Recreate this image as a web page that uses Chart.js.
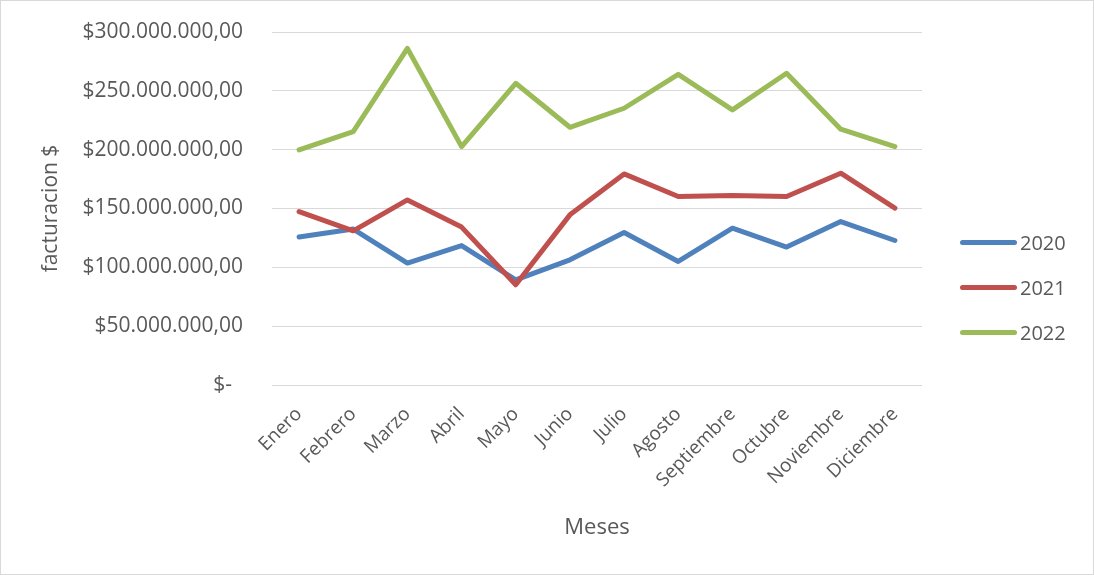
<!DOCTYPE html>
<html>
<head>
<meta charset="utf-8">
<script src="https://cdn.jsdelivr.net/npm/chart.js@4"></script>
<style>
    body { margin: 0; background: #fff; }
    #wrap { position: relative; width: 1094px; height: 575px; }
    #marco { position: absolute; left: 0; top: 0; width: 1092px; height: 573px; border: 1px solid #d9d9d9; pointer-events: none; }
    #leyenda { position: absolute; left: 960px; top: 220px; font-family: "Open Sans", sans-serif; font-size: 20px; color: #595959; }
    .item { height: 45px; display: flex; align-items: center; }
    .item span.linea { display: inline-block; width: 57px; height: 5px; border-radius: 3px; margin-right: 3px; }
</style>
</head>
<body>
<div id="wrap">
    <canvas id="myChart" width="1094" height="575"></canvas>
    <div id="leyenda"></div>
    <div id="marco"></div>
</div>
<script>
const meses = ["Enero", "Febrero", "Marzo", "Abril", "Mayo", "Junio", "Julio", "Agosto", "Septiembre", "Octubre", "Noviembre", "Diciembre"];
const anios = ["2020", "2021", "2022"];
const colores = ["#4f81bd", "#c0504d", "#9bbb59"];

const ventas2020 = [125700000, 132500000, 103600000, 118500000, 89400000, 106400000, 129600000, 105000000, 133300000, 117200000, 138900000, 122800000];
const ventas2021 = [147400000, 131000000, 157300000, 134200000, 85200000, 144600000, 179400000, 160200000, 161000000, 160200000, 180000000, 150300000];
const ventas2022 = [199800000, 215300000, 286100000, 202600000, 256400000, 219000000, 235200000, 264000000, 233800000, 264900000, 217400000, 202600000];

const fuente = "'Open Sans', sans-serif";
const gris = "#595959";

function formatoPesos(v) {
    if (v === 0) return "$-  ";
    let s = Math.round(v).toString().replace(/\B(?=(\d{3})+(?!\d))/g, ".");
    return "$" + s + ",00";
}

const series = [ventas2020, ventas2021, ventas2022];
let datasets = [];
for (let i = 0; i < series.length; i++) {
    datasets.push({
        label: anios[i],
        data: series[i],
        borderColor: colores[i],
        backgroundColor: colores[i],
        borderWidth: 5,
        pointRadius: 0,
        borderJoinStyle: "round",
        borderCapStyle: "round",
        tension: 0,
        order: series.length - i
    });
}

const ctx = document.getElementById("myChart");
new Chart(ctx, {
    type: "line",
    data: { labels: meses, datasets: datasets },
    options: {
        responsive: false,
        animation: false,
        layout: { padding: { left: 38, right: 172, top: 32, bottom: 34 } },
        plugins: { legend: { display: false }, tooltip: { enabled: false } },
        scales: {
            x: {
                offset: true,
                grid: { display: false },
                border: { display: false },
                ticks: { color: gris, font: { family: fuente, size: 19 }, maxRotation: 45, minRotation: 45, padding: 10 },
                title: { display: true, text: "Meses", color: gris, font: { family: fuente, size: 22 }, padding: 0 },
                afterFit: function (scale) { scale.height = 575 - 385 - 34; }
            },
            y: {
                min: 0,
                max: 300000000,
                grid: { color: "#d9d9d9", lineWidth: 1, drawTicks: false },
                border: { display: false },
                ticks: { stepSize: 50000000, color: gris, font: { family: fuente, size: 21 }, padding: 29, callback: formatoPesos },
                title: { display: true, text: "facturacion $", color: gris, font: { family: fuente, size: 21 }, padding: 0 },
                afterFit: function (scale) {
                    scale.width = 272 - 38;
                    scale.paddingTop = 0;
                    scale.paddingBottom = 0;
                }
            }
        }
    }
});

// leyenda a la derecha
const ley = document.getElementById("leyenda");
for (let i = 0; i < anios.length; i++) {
    let d = document.createElement("div");
    d.className = "item";
    d.innerHTML = '<span class="linea" style="background:' + colores[i] + '"></span>' + anios[i];
    ley.appendChild(d);
}
</script>
</body>
</html>
